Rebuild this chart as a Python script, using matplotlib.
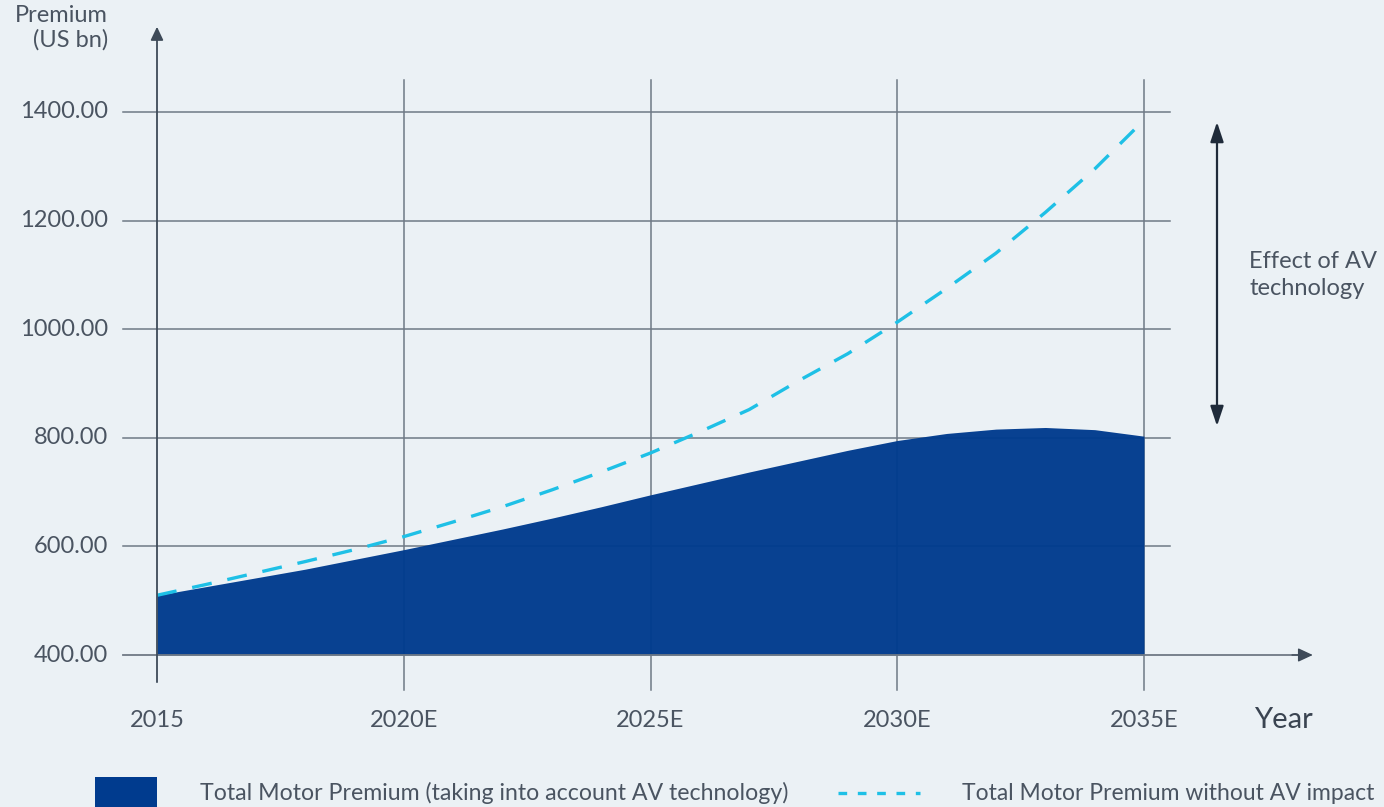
import matplotlib.pyplot as plt
import numpy as np

# values (US bn)
years = list(range(2015, 2036))
premium_av = [510, 526, 542, 558, 576, 594, 613, 632, 652, 673, 695,
              716, 737, 757, 777, 795, 808, 816, 819, 815, 803]
premium_no_av = [510, 530, 551, 572, 594, 618, 645, 673, 704, 737, 772,
                 811, 852, 905, 955, 1013, 1075, 1140, 1215, 1295, 1385]
yticks = [400, 600, 800, 1000, 1200, 1400]
xticks = [2015, 2020, 2025, 2030, 2035]
xtick_labels = ['2015', '2020E', '2025E', '2030E', '2035E']

bg       = '#ebf1f5'
navy     = '#003b8e'
cyan     = '#1ec0e6'
gridc    = '#6f7985'
textc    = '#4a5461'
arrowc   = '#1f2b3a'

plt.rcParams['font.family'] = ['Lato', 'DejaVu Sans']

fig = plt.figure(figsize=(13.84, 8.07), dpi=100, facecolor=bg)
ax = fig.add_axes([157/1384, 152/807, 987/1384, 543/807])
ax.set_facecolor(bg)
ax.set_xlim(2015, 2035)
ax.set_ylim(400, 1400)
for s in ax.spines.values():
    s.set_visible(False)
ax.set_xticks([]); ax.set_yticks([])

# grid lines, extended a bit past the data area like the original
ytr = ax.get_yaxis_transform()
xtr = ax.get_xaxis_transform()
for y in yticks[1:]:
    ax.plot([-0.0344, 1.0263], [y, y], transform=ytr, color=gridc, lw=1.1, clip_on=False, zorder=1)
for x in xticks[1:]:
    ax.plot([x, x], [-0.0645, 1.059], transform=xtr, color=gridc, lw=1.1, clip_on=False, zorder=1)

# area + dashed line
ax.fill_between(years, 400, premium_av, color=navy, lw=0, alpha=0.97, zorder=2)
ax.plot(years, premium_no_av, color=cyan, lw=2.4, dashes=(6, 4.8), zorder=3, clip_on=False)

# axes arrows
ax.plot([-0.0344, 1.16], [400, 400], transform=ytr, color=gridc, lw=1.3, clip_on=False, zorder=4)
ax.annotate('', xy=(1.171, 400), xycoords=ytr, xytext=(1.15, 400), textcoords=ytr,
            arrowprops=dict(arrowstyle='-|>,head_length=0.9,head_width=0.42', color='#3e4a58', lw=1.0,
                            shrinkA=0, shrinkB=0), zorder=4)
ax.annotate('', xy=(2015, 1.157), xycoords=xtr, xytext=(2015, -0.05), textcoords=xtr,
            arrowprops=dict(arrowstyle='-|>,head_length=0.8,head_width=0.38', color='#3e4a58', lw=1.3,
                            shrinkA=0, shrinkB=0), zorder=4)

# tick labels
for y in yticks:
    ax.text(-0.0496, y, f'{y:.2f}', transform=ytr, ha='right', va='center',
            fontsize=17, color=textc)
for x, lab in zip(xticks, xtick_labels):
    ax.text(x, -0.12, lab, transform=xtr, ha='center', va='center', fontsize=17, color=textc)
ax.text(1.171, -0.12, 'Year', transform=ax.transAxes, ha='right', va='center',
        fontsize=21, color='#3a4451')
fig.text(108/1384, 1 - 5/807, 'Premium\n(US bn)', ha='right', va='top', fontsize=17,
         color=textc, linespacing=1.2)

# effect of AV arrow
ax.annotate('', xy=(1217/1384, 1 - 122/807), xycoords='figure fraction',
            xytext=(1217/1384, 1 - 426/807), textcoords='figure fraction',
            arrowprops=dict(arrowstyle='<|-|>,head_length=1.2,head_width=0.4', color=arrowc, lw=1.6,
                            shrinkA=0, shrinkB=0))
fig.text(1249/1384, 1 - 275/807, 'Effect of AV\ntechnology', ha='left', va='center',
         fontsize=17, color=textc, linespacing=1.3)

# legend drawn by hand
fig.patches.append(plt.Rectangle((95/1384, 0), 62/1384, 30/807, transform=fig.transFigure,
                                 color=navy, lw=0))
fig.text(200/1384, 1 - 793/807, 'Total Motor Premium (taking into account AV technology)',
         ha='left', va='center', fontsize=16.7, color=textc)
fig.add_artist(plt.Line2D([838/1384, 920/1384], [1 - 793/807, 1 - 793/807], color=cyan, lw=2.4,
                          dashes=(2.6, 3.2), transform=fig.transFigure))
fig.text(962/1384, 1 - 793/807, 'Total Motor Premium without AV impact',
         ha='left', va='center', fontsize=16.5, color=textc)

fig.savefig('out.png', dpi=100, facecolor=bg)
